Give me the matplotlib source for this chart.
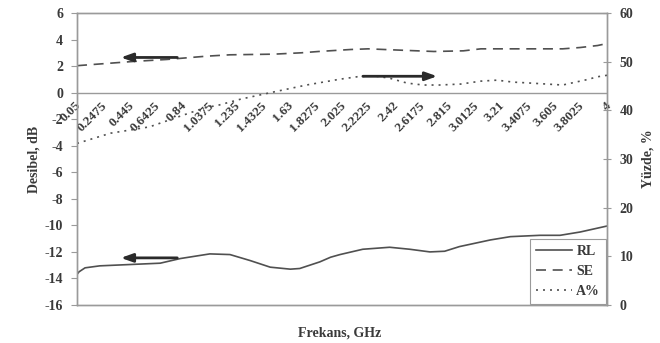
import matplotlib
matplotlib.use("Agg")
import matplotlib.pyplot as plt
from matplotlib.lines import Line2D

# Frequency samples (GHz) and measured curves
rl_freq = [0.05, 0.065, 0.11, 0.22, 0.445, 0.67, 0.82, 1.04, 1.19, 1.34, 1.49, 1.64,
           1.71, 1.86, 1.94, 2.01, 2.18, 2.38, 2.53, 2.68, 2.79, 2.90, 3.13, 3.28,
           3.50, 3.65, 3.80, 4.0]
rl_db = [-13.7, -13.5, -13.2, -13.05, -12.95, -12.85, -12.5, -12.15, -12.2, -12.65,
         -13.15, -13.3, -13.25, -12.75, -12.4, -12.2, -11.8, -11.65, -11.8, -12.0,
         -11.95, -11.6, -11.1, -10.85, -10.75, -10.75, -10.5, -10.05]

se_freq = [0.05, 0.47, 0.72, 1.02, 1.19, 1.52, 1.72, 1.85, 2.09, 2.22, 2.46, 2.71,
           2.93, 3.06, 3.30, 3.67, 3.80, 3.93, 4.0]
se_db = [2.03, 2.35, 2.5, 2.75, 2.85, 2.9, 3.0, 3.1, 3.25, 3.3, 3.2, 3.1,
         3.15, 3.3, 3.3, 3.3, 3.4, 3.55, 3.7]

a_freq = [0.05, 0.30, 0.59, 0.84, 1.00, 1.11, 1.27, 1.52, 1.76, 2.01, 2.14, 2.26,
          2.38, 2.51, 2.63, 2.75, 2.91, 3.06, 3.18, 3.30, 3.43, 3.55, 3.67, 3.75,
          3.85, 3.93, 4.0]
a_pct = [33.2, 35.3, 36.6, 39.0, 40.5, 41.1, 42.3, 43.8, 45.2, 46.4, 46.9, 47.1,
         46.6, 45.6, 45.2, 45.2, 45.4, 46.0, 46.2, 45.8, 45.6, 45.4, 45.2, 45.7,
         46.3, 46.9, 47.2]

tick_freq = [0.05, 0.2475, 0.445, 0.6425, 0.84, 1.0375, 1.235, 1.4325, 1.63, 1.8275,
             2.025, 2.2225, 2.42, 2.6175, 2.815, 3.0125, 3.21, 3.4075, 3.605, 3.8025, 4]
tick_text = ["0.05", "0.2475", "0.445", "0.6425", "0.84", "1.0375", "1.235", "1.4325",
             "1.63", "1.8275", "2.025", "2.2225", "2.42", "2.6175", "2.815", "3.0125",
             "3.21", "3.4075", "3.605", "3.8025", "4"]

left_ticks = [6, 4, 2, 0, -2, -4, -6, -8, -10, -12, -14, -16]
right_ticks = [0, 10, 20, 30, 40, 50, 60]

FONT = "Liberation Serif"
TXT = "#3a3a3a"
LINE = "#505050"
GRID = "#9a9a9a"
FS = 10

fig = plt.figure(figsize=(6.6, 3.43), dpi=100)
ax = fig.add_axes([77 / 660, 38 / 343, 530 / 660, 292 / 343])
ax2 = ax.twinx()

ax.plot(rl_freq, rl_db, color=LINE, lw=1.2, ls="-")
ax.plot(se_freq, se_db, color=LINE, lw=1.2, ls=(0, (6, 4)))
ax2.plot(a_freq, a_pct, color=LINE, lw=1.2, ls=(0, (1.2, 3)))

ax.set_xlim(0.05, 4.0)
ax.set_ylim(-16, 6)
ax2.set_ylim(0, 60)

ax.axhline(0, color=GRID, lw=1.0)

for a in (ax, ax2):
    for s in a.spines.values():
        s.set_color(GRID)
        s.set_linewidth(1.0)

ax.set_xticks([])
ax.set_yticks(left_ticks)
ax.set_yticklabels([str(v) for v in left_ticks])
ax2.set_yticks(right_ticks)
ax2.set_yticklabels([str(v) for v in right_ticks])
ax.tick_params(axis="y", direction="out", length=4, color=GRID, pad=6)
ax2.tick_params(axis="y", direction="inout", length=6, color=GRID, pad=6)
for lab in ax.get_yticklabels() + ax2.get_yticklabels():
    lab.set_fontfamily(FONT)
    lab.set_fontweight("bold")
    lab.set_fontsize(FS)
    lab.set_color(TXT)

# Category labels sitting on the zero line
for t, s in zip(tick_freq, tick_text):
    ax.annotate(s, xy=(t, 0), xytext=(-1.5, -5), textcoords="offset points",
                rotation=45, rotation_mode="anchor", ha="right", va="top",
                fontfamily=FONT, fontweight="bold", fontsize=9.5, color=TXT)

# Arrows pointing each curve to its axis
arrow_kw = dict(arrowstyle="-|>,head_length=0.7,head_width=0.25", color="#2a2a2a", lw=2.0)
ax.annotate("", xy=(0.356, 2.65), xytext=(0.818, 2.65), arrowprops=arrow_kw)
ax.annotate("", xy=(0.356, -12.45), xytext=(0.818, -12.45), arrowprops=arrow_kw)
ax2.annotate("", xy=(2.755, 47.0), xytext=(2.16, 47.0), arrowprops=arrow_kw)

ax.set_ylabel("Desibel, dB", fontfamily=FONT, fontweight="bold", fontsize=FS,
              color=TXT, labelpad=3)
ax2.set_ylabel("Yüzde, %", fontfamily=FONT, fontweight="bold", fontsize=FS,
               color=TXT, labelpad=6)
fig.text(340 / 660, 1 - 333 / 343, "Frekans, GHz", ha="center", va="center",
         fontfamily=FONT, fontweight="bold", fontsize=FS, color=TXT)

handles = [Line2D([], [], color=LINE, lw=1.2, ls="-"),
           Line2D([], [], color=LINE, lw=1.2, ls=(0, (6, 4))),
           Line2D([], [], color=LINE, lw=1.2, ls=(0, (1.2, 3)))]
leg = ax2.legend(handles, ["RL", "SE", "A%"], loc="lower right",
                 bbox_to_anchor=(1.0, 0.0), borderaxespad=0.05, fancybox=False,
                 framealpha=1, edgecolor=GRID, handlelength=2.6, handletextpad=0.3,
                 labelspacing=0.5, borderpad=0.45,
                 prop={"family": FONT, "weight": "bold", "size": FS})
for txt in leg.get_texts():
    txt.set_color(TXT)
leg.get_frame().set_linewidth(0.8)

fig.savefig("out.png", dpi=100, facecolor="white")
